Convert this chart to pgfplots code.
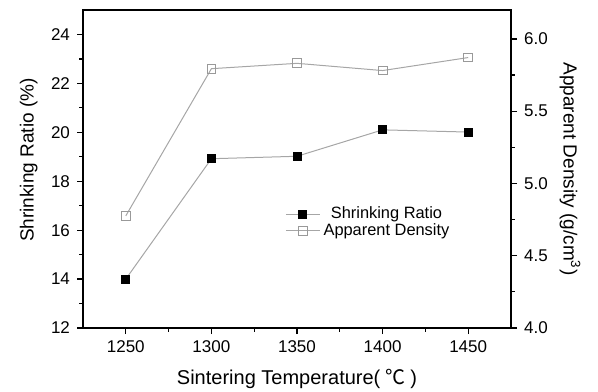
\documentclass[border=0pt]{standalone}
\usepackage{fontspec}
\setmainfont{Liberation Sans}
\newfontfamily\cjk{Noto Sans CJK SC}
\usepackage{pgfplots}
\pgfplotsset{compat=1.18}
\begin{document}
\begin{tikzpicture}
\useasboundingbox (0,0) rectangle (299pt,195.5pt);
\pgfplotsset{common/.style={
  at={(41.5pt,31.5pt)}, anchor=south west, scale only axis,
  width=214pt, height=159pt,
  xmin=1225, xmax=1475,
  tick align=outside,
  major tick length=3pt, minor tick length=1.8pt,
  axis line style={line width=0.8pt},
  every tick/.style={black, line width=0.6pt},
  tick label style={font=\fontsize{8.5}{10}\selectfont},
  /pgf/number format/assume math mode=true,
  /pgf/number format/1000 sep={},
  label style={font=\fontsize{9.5}{11}\selectfont},
}}
\begin{axis}[common,
  ymin=12, ymax=25,
  xtick={1250,1300,...,1450}, ytick={12,14,...,24},
  minor x tick num=1, minor y tick num=1,
  xtick pos=left, ytick pos=left,
  xlabel={Sintering Temperature(\kern2.5pt{\cjk ℃}\kern2.5pt)},
  ylabel={Shrinking Ratio (\%)},
  xlabel style={font=\fontsize{10}{12}\selectfont, at={(axis description cs:0.5,-0.16)}, anchor=center},
  ylabel style={at={(axis description cs:-0.127,0.528)}, anchor=center},
]
\addplot[gray!70, line width=0.5pt, mark=square*, mark size=2pt,
  mark options={fill=black, draw=black, solid}] coordinates {
  (1250,14.0) (1300,18.92) (1350,19.02) (1400,20.1) (1450,20.01)};
\end{axis}
\begin{axis}[common,
  ymin=4, ymax=6.2,
  axis y line*=right, axis x line=none,
  ytick={4,4.5,...,6}, minor y tick num=1,
  yticklabel style={/pgf/number format/.cd, fixed, fixed zerofill, precision=1},
  ylabel={Apparent Density (g/cm\textsuperscript{3})},
  ylabel style={rotate=180, at={(axis description cs:1.138,0.5)}, anchor=center},
  legend style={draw=none, fill=none, at={(axis description cs:0.458,0.405)},
    anchor=north west, font=\fontsize{8.2}{9.5}\selectfont, row sep=-2pt,
    nodes={inner sep=1.5pt}},
]
\addlegendimage{gray!70, line width=0.5pt, mark=square*, mark size=2pt,
  mark options={fill=black, draw=black, solid}}
\addlegendentry{Shrinking Ratio}
\addplot[gray!70, line width=0.5pt, mark=square, mark size=2.2pt,
  mark options={draw=gray!80, fill=white, solid}] coordinates {
  (1250,4.776) (1300,5.794) (1350,5.831) (1400,5.781) (1450,5.871)};
\addlegendentry{Apparent Density}
\end{axis}
\end{tikzpicture}
\end{document}
